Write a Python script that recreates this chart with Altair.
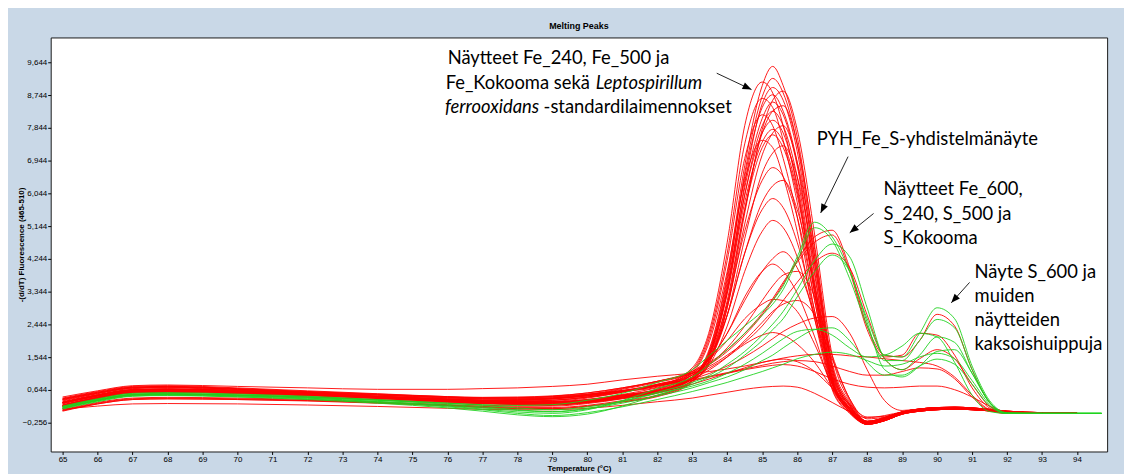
import altair as alt
import pandas as pd

# ---------------- data ----------------
temps = [65, 66, 67, 68, 70, 72, 74, 76, 77, 78, 79, 80, 81, 82, 83, 83.5, 84, 84.5, 85, 85.3, 85.6,
         86, 86.5, 87, 87.5, 88, 88.5, 89, 89.5, 90, 90.5, 91, 91.5, 92, 93, 94, 94.7]

# red: Fe samples / L. ferrooxidans standards (main peak ~85.3 C)
fe_m01 = [0.30,0.50,0.65,0.66,0.62,0.55,0.45,0.36,0.32,0.30,0.30,0.35,0.48,0.62, 1.00,1.80,3.80,6.80,9.00,9.53,9.00,7.60,4.50,1.30,0.25, -0.25,-0.15,0.02,0.10,0.14,0.15,0.13,0.09,0.05,0.01,0.00, None]
fe_m02 = [0.20,0.42,0.58,0.60,0.56,0.50,0.42,0.33,0.28,0.25,0.24,0.30,0.42,0.58, 0.95,1.70,3.60,6.60,8.70,9.20,8.80,7.40,4.30,1.20,0.20, -0.28,-0.18,0.00,0.08,0.12,0.13,0.11,0.08,0.04,0.01,0.00, None]
fe_m03 = [0.40,0.58,0.72,0.74,0.68,0.60,0.52,0.45,0.42,0.42,0.45,0.52,0.62,0.75, 1.25,2.30,4.70,7.90,9.10,8.80,7.90,6.20,3.40,0.95,0.10, -0.30,-0.20,-0.02,0.06,0.10,0.12,0.10,0.07,0.04,0.00,0.00, None]
fe_m04 = [0.28,0.48,0.62,0.64,0.60,0.53,0.44,0.35,0.31,0.29,0.29,0.34,0.46,0.60, 0.95,1.65,3.40,6.30,8.50,8.95,8.60,7.20,4.10,1.10,0.15, -0.25,-0.15,0.02,0.10,0.14,0.15,0.13,0.09,0.05,0.01,0.00, None]
fe_m05 = [0.08,0.28,0.40,0.42,0.40,0.36,0.30,0.22,0.17,0.14,0.13,0.20,0.32,0.48, 0.88,1.40,2.90,5.50,7.80,8.60,8.85,7.80,4.90,1.60,0.35, -0.22,-0.12,0.04,0.12,0.16,0.17,0.15,0.11,0.06,0.02,0.00, None]
fe_m06 = [0.22,0.44,0.60,0.62,0.58,0.52,0.43,0.34,0.29,0.26,0.26,0.32,0.44,0.60, 0.98,1.75,3.70,6.50,8.40,8.75,8.30,6.90,3.90,1.00,0.10, -0.30,-0.20,-0.02,0.06,0.10,0.12,0.10,0.07,0.04,0.00,0.00, None]
fe_m07 = [0.38,0.56,0.70,0.72,0.66,0.58,0.50,0.43,0.40,0.40,0.42,0.50,0.60,0.72, 1.20,2.20,4.40,7.40,8.65,8.40,7.50,5.80,3.10,0.80,0.05, -0.28,-0.18,0.00,0.08,0.12,0.13,0.11,0.08,0.04,0.01,0.00, None]
fe_m08 = [0.32,0.52,0.66,0.68,0.63,0.56,0.46,0.37,0.33,0.31,0.31,0.36,0.49,0.63, 1.00,1.70,3.50,6.20,8.10,8.55,8.20,6.80,3.80,1.00,0.12, -0.25,-0.15,0.02,0.10,0.14,0.15,0.13,0.09,0.05,0.01,0.00, None]
fe_m09 = [0.18,0.40,0.56,0.58,0.55,0.49,0.41,0.32,0.27,0.24,0.23,0.29,0.41,0.56, 0.90,1.45,3.00,5.60,7.70,8.30,8.45,7.40,4.60,1.40,0.30, -0.22,-0.12,0.04,0.12,0.16,0.17,0.15,0.11,0.06,0.02,0.00, None]
fe_m10 = [0.10,0.30,0.42,0.44,0.42,0.38,0.31,0.24,0.19,0.16,0.16,0.22,0.35,0.50, 0.90,1.60,3.30,6.00,7.90,8.30,7.90,6.50,3.60,0.90,0.08, -0.30,-0.20,-0.02,0.06,0.10,0.12,0.10,0.07,0.04,0.00,0.00, None]
fe_m11 = [0.30,0.50,0.64,0.66,0.61,0.54,0.45,0.36,0.32,0.30,0.30,0.36,0.50,0.66, 1.15,2.10,4.20,7.00,8.20,7.90,7.00,5.40,2.80,0.70,0.02, -0.28,-0.18,0.00,0.08,0.12,0.13,0.11,0.08,0.04,0.01,0.00, None]
fe_m12 = [0.24,0.45,0.60,0.62,0.58,0.52,0.43,0.34,0.29,0.27,0.27,0.33,0.45,0.60, 0.95,1.65,3.40,6.00,7.70,8.05,7.70,6.30,3.50,0.90,0.10, -0.25,-0.15,0.02,0.10,0.14,0.15,0.13,0.09,0.05,0.01,0.00, None]
fe_m13 = [0.42,0.60,0.74,0.76,0.70,0.62,0.54,0.46,0.43,0.43,0.46,0.53,0.63,0.76, 1.05,1.55,2.90,5.20,7.10,7.70,7.90,6.90,4.30,1.30,0.25, -0.22,-0.12,0.04,0.12,0.16,0.17,0.15,0.11,0.06,0.02,0.00, None]
fe_m14 = [0.26,0.47,0.62,0.64,0.60,0.53,0.44,0.35,0.31,0.29,0.29,0.34,0.47,0.61, 0.95,1.60,3.30,5.80,7.45,7.80,7.45,6.10,3.30,0.85,0.05, -0.30,-0.20,-0.02,0.06,0.10,0.12,0.10,0.07,0.04,0.00,0.00, None]
fe_m15 = [0.06,0.26,0.38,0.40,0.38,0.35,0.29,0.21,0.16,0.13,0.13,0.19,0.31,0.46, 0.85,1.50,3.10,5.60,7.30,7.65,7.30,6.00,3.30,0.90,0.10, -0.28,-0.18,0.00,0.08,0.12,0.13,0.11,0.08,0.04,0.01,0.00, None]
fe_m16 = [0.20,0.42,0.57,0.59,0.55,0.49,0.41,0.32,0.27,0.25,0.25,0.31,0.44,0.60, 1.10,2.00,3.90,6.40,7.50,7.30,6.50,5.00,2.60,0.65,0.00, -0.30,-0.20,-0.02,0.06,0.10,0.12,0.10,0.07,0.04,0.00,0.00, None]
fe_m17 = [0.34,0.54,0.68,0.70,0.64,0.57,0.47,0.38,0.34,0.32,0.32,0.37,0.50,0.64, 0.95,1.45,2.70,4.80,6.60,7.15,7.35,6.50,4.10,1.20,0.22, -0.25,-0.15,0.02,0.10,0.14,0.15,0.13,0.09,0.05,0.01,0.00, None]

# red: lower dilutions / weaker samples
fe_d01 = [0.22,0.43,0.58,0.60,0.56,0.50,0.42,0.33,0.28,0.26,0.26,0.32,0.45,0.62, 1.00,1.60,3.00,5.00,6.40,6.75,6.50,5.40,3.10,0.90,0.10, -0.28,-0.18,0.00,0.08,0.12,0.13,0.11,0.08,0.04,0.01,0.00, None]
fe_d02 = [0.36,0.55,0.70,0.72,0.66,0.58,0.50,0.42,0.40,0.40,0.43,0.50,0.62,0.76, 1.05,1.55,2.70,4.40,5.80,6.25,6.40,5.60,3.50,1.10,0.20, -0.25,-0.15,0.02,0.10,0.14,0.15,0.13,0.09,0.05,0.01,0.00, None]
fe_d03 = [0.30,0.50,0.64,0.66,0.62,0.55,0.46,0.37,0.33,0.31,0.32,0.38,0.50,0.66, 1.00,1.50,2.70,4.40,5.60,5.90,5.65,4.70,2.80,0.80,0.05, -0.30,-0.20,-0.02,0.06,0.10,0.12,0.10,0.07,0.04,0.00,0.00, None]
fe_d04 = [0.14,0.36,0.51,0.53,0.50,0.45,0.37,0.28,0.23,0.20,0.20,0.27,0.40,0.56, 0.90,1.35,2.40,3.90,5.00,5.30,5.10,4.30,2.60,0.80,0.05, -0.28,-0.18,0.00,0.08,0.12,0.13,0.11,0.08,0.04,0.01,0.00, None]
fe_d05 = [0.22,0.44,0.60,0.62,0.58,0.52,0.44,0.36,0.32,0.31,0.33,0.42,0.58,0.78, 1.10,1.50,2.20,3.10,3.90,4.25,4.44,4.00,2.70,1.00,0.15, -0.22,-0.12,0.04,0.12,0.16,0.17,0.15,0.11,0.06,0.02,0.00, None]
fe_d06 = [0.28,0.48,0.62,0.64,0.60,0.54,0.46,0.38,0.35,0.34,0.36,0.45,0.60,0.80, 1.10,1.50,2.20,3.20,3.90,4.10,3.90,3.30,2.10,0.70,0.05, -0.25,-0.15,0.02,0.10,0.14,0.15,0.13,0.09,0.05,0.01,0.00, None]
fe_d07 = [0.40,0.58,0.72,0.74,0.68,0.60,0.53,0.46,0.44,0.45,0.48,0.56,0.70,0.88, 1.15,1.50,2.00,2.60,3.00,3.13,3.10,2.80,1.90,0.80,0.15, -0.22,-0.12,0.04,0.12,0.16,0.17,0.15,0.11,0.06,0.02,0.00, None]
fe_d08 = [0.20,0.42,0.57,0.59,0.55,0.50,0.43,0.36,0.33,0.33,0.36,0.45,0.60,0.78, 1.00,1.25,1.55,1.90,2.15,2.22,2.15,1.90,1.40,0.70,0.15, -0.25,-0.15,0.02,0.10,0.14,0.15,0.13,0.09,0.05,0.01,0.00, None]
fe_d09 = [0.08,0.26,0.38,0.40,0.38,0.34,0.28,0.22,0.20,0.20,0.22,0.30,0.42,0.58, 0.80,0.95,1.10,1.25,1.40,1.46,1.49,1.42,1.15,0.70,0.25, -0.10,-0.08,0.03,0.10,0.14,0.15,0.13,0.09,0.05,0.01,0.00, None]
fe_d10 = [0.12,0.20,0.26,0.27,0.26,0.23,0.19,0.14,0.11,0.10,0.10,0.14,0.22,0.32, 0.42,0.50,0.58,0.66,0.72,0.74,0.75,0.72,0.55,0.30,0.05, -0.12,-0.06,0.04,0.10,0.13,0.13,0.11,0.07,0.03,0.00,0.00, None]
fe_d11 = [0.30,0.50,0.64,0.66,0.62,0.55,0.47,0.40,0.37,0.37,0.40,0.48,0.62,0.80, 1.05,1.35,1.80,2.40,3.10,3.50,3.80,3.90,3.20,1.60,0.40, -0.22,-0.12,0.04,0.12,0.16,0.17,0.15,0.11,0.06,0.02,0.00, None]
fe_d12 = [0.14,0.36,0.51,0.53,0.50,0.45,0.38,0.30,0.27,0.27,0.30,0.38,0.52,0.70, 0.95,1.20,1.55,2.00,2.50,2.80,3.00,3.10,2.70,1.50,0.40, -0.15,-0.10,0.04,0.11,0.15,0.16,0.14,0.10,0.05,0.01,0.00, None]

# red: Fe_600 / S samples (peak ~87 C, double peaks)
s_r01 = [0.22,0.44,0.60,0.62,0.58,0.52,0.45,0.38,0.35,0.36,0.40,0.50,0.66,0.85, 1.10,1.35,1.70,2.15,2.70,3.10,3.55,4.20,4.85,5.03,4.00,2.40,1.60,1.55,2.00,2.72,2.40,1.20,0.30,0.02,0.00,0.00, None]
s_r02 = [0.30,0.50,0.64,0.66,0.62,0.55,0.47,0.40,0.37,0.38,0.42,0.52,0.68,0.88, 1.15,1.40,1.75,2.20,2.75,3.15,3.60,4.15,4.70,4.90,3.90,2.30,1.55,1.60,2.20,2.15,1.60,0.70,0.15,0.02,0.00,0.00, None]
s_r03 = [0.38,0.56,0.70,0.72,0.66,0.58,0.51,0.44,0.42,0.43,0.47,0.56,0.70,0.88, 1.10,1.30,1.60,1.95,2.40,2.75,3.10,3.60,4.15,4.40,4.00,2.70,1.50,1.20,1.50,1.75,1.50,0.80,0.20,0.02,0.00,0.00, None]
s_r04 = [0.20,0.42,0.58,0.60,0.56,0.50,0.44,0.37,0.35,0.36,0.40,0.48,0.62,0.78, 0.95,1.10,1.30,1.55,1.85,2.05,2.25,2.45,2.62,2.66,2.20,1.20,0.35,0.08,0.12,0.15,0.15,0.12,0.08,0.04,0.01,0.00, None]
s_r05 = [0.45,0.62,0.76,0.78,0.74,0.70,0.66,0.66,0.68,0.70,0.74,0.80,0.92,1.02, 1.10,1.15,1.22,1.30,1.40,1.46,1.52,1.58,1.62,1.62,1.58,1.55,1.50,1.45,1.40,1.30,1.00,0.50,0.10,0.00,0.00,0.00, None]
s_r06 = [0.28,0.48,0.62,0.64,0.60,0.54,0.46,0.39,0.36,0.36,0.40,0.48,0.60,0.76, 0.92,1.02,1.12,1.22,1.32,1.38,1.42,1.45,1.42,1.30,1.15,1.05,1.05,1.15,1.25,1.22,0.95,0.45,0.08,0.00,0.00,0.00, None]
s_r07 = [0.20,0.42,0.58,0.60,0.56,0.50,0.43,0.36,0.33,0.33,0.36,0.44,0.58,0.75, 0.90,1.00,1.10,1.20,1.28,1.32,1.34,1.30,1.15,0.95,0.80,0.72,0.70,0.72,0.75,0.75,0.65,0.45,0.20,0.03,0.00,0.00, None]

# green: PYH_Fe_S combination sample and S_600-type curves
s_g01 = [0.18,0.38,0.52,0.54,0.50,0.44,0.36,0.28,0.24,0.22,0.24,0.36,0.55,0.85, 1.20,1.60,2.00,2.40,2.80,3.10,3.50,4.30,5.25,4.85,3.90,2.60,1.60,1.55,2.20,2.90,2.60,1.30,0.35,0.02,0.00,0.00,0.00]
s_g02 = [0.15,0.35,0.50,0.52,0.48,0.42,0.32,0.20,0.12,0.04,0.00,0.10,0.35,0.68, 1.00,1.35,1.75,2.20,2.70,3.00,3.40,4.20,5.10,4.75,3.70,2.40,1.45,1.45,2.00,2.58,2.35,1.20,0.30,0.00,0.00,0.00,0.00]
s_g03 = [0.20,0.40,0.55,0.57,0.53,0.47,0.38,0.28,0.22,0.15,0.10,0.18,0.34,0.58, 0.85,1.05,1.35,1.70,2.15,2.45,2.80,3.40,4.20,4.65,4.30,2.90,1.50,1.20,1.60,2.10,1.95,1.10,0.30,0.00,0.00,0.00,0.00]
s_g04 = [0.12,0.32,0.47,0.49,0.45,0.38,0.28,0.15,0.06,-0.04,-0.09,-0.02,0.20,0.50, 0.80,1.00,1.25,1.60,2.00,2.30,2.60,3.20,3.90,4.35,3.90,2.50,1.20,1.00,1.30,1.70,1.75,1.10,0.30,0.00,0.00,0.00,0.00]
s_g05 = [0.16,0.36,0.50,0.52,0.48,0.42,0.33,0.22,0.15,0.08,0.04,0.12,0.28,0.48, 0.70,0.85,1.00,1.20,1.45,1.60,1.80,2.05,2.30,2.35,2.00,1.40,1.05,1.05,1.30,1.49,1.35,0.80,0.20,0.00,0.00,0.00,0.00]
s_g06 = [0.14,0.34,0.48,0.50,0.46,0.40,0.30,0.18,0.10,0.00,-0.06,0.02,0.18,0.38, 0.60,0.72,0.85,1.00,1.15,1.25,1.35,1.50,1.62,1.68,1.62,1.45,1.30,1.35,1.55,1.65,1.50,0.90,0.25,0.00,0.00,0.00,0.00]
s_g07 = [0.18,0.38,0.53,0.55,0.51,0.45,0.36,0.25,0.18,0.10,0.05,0.14,0.32,0.55, 0.75,0.90,1.10,1.35,1.65,1.85,2.05,2.25,2.31,2.15,1.80,1.55,1.60,1.85,2.20,2.10,1.40,0.50,0.05,0.00,0.00,0.00,0.00]

red_series = [fe_m01, fe_m02, fe_m03, fe_m04, fe_m05, fe_m06, fe_m07, fe_m08, fe_m09, fe_m10,
              fe_m11, fe_m12, fe_m13, fe_m14, fe_m15, fe_m16, fe_m17,
              fe_d01, fe_d02, fe_d03, fe_d04, fe_d05, fe_d06, fe_d07, fe_d08, fe_d09, fe_d10,
              fe_d11, fe_d12, s_r01, s_r02, s_r03, s_r04, s_r05, s_r06, s_r07]
green_series = [s_g01, s_g02, s_g03, s_g04, s_g05, s_g06, s_g07]

y_ticks = [-0.256, 0.644, 1.544, 2.444, 3.344, 4.244, 5.144, 6.044, 6.944, 7.844, 8.744, 9.644]
x_ticks = list(range(65, 95))

# annotation texts (data coordinates: temperature, value at baseline)
ann_normal_text = ["Näytteet Fe_240, Fe_500 ja", "Fe_Kokooma sekä", "-standardilaimennokset",
                   "PYH_Fe_S-yhdistelmänäyte",
                   "Näytteet Fe_600,", "S_240, S_500 ja", "S_Kokooma",
                   "Näyte S_600 ja", "muiden", "näytteiden", "kaksoishuippuja"]
ann_normal_T = [76.01, 75.95, 78.75, 86.56, 88.47, 88.47, 88.47, 91.07, 91.07, 91.07, 91.07]
ann_normal_v = [9.589, 8.921, 8.252, 7.380, 5.989, 5.321, 4.652, 3.712, 3.057, 2.403, 1.748]
ann_italic_text = ["Leptospirillum", "ferrooxidans"]
ann_italic_T = [80.24, 75.93]
ann_italic_v = [8.921, 8.252]

arrow_T0 = [83.70, 87.455, 88.184, 90.928]
arrow_v0 = [9.343, 7.052, 5.490, 3.597]
arrow_T1 = [84.694, 86.671, 87.503, 90.405]
arrow_v1 = [8.893, 5.506, 4.961, 3.036]
arrow_angle = [115.2, 206.0, 231.0, 221.8]

# ---------------- build tables ----------------
def long_table(series_list, prefix):
    rows = []
    for i, vals in enumerate(series_list):
        assert len(vals) == len(temps), (prefix, i, len(vals))
        for t, v in zip(temps, vals):
            if v is not None:
                rows.append({"curve": f"{prefix}{i:02d}", "T": t, "v": v})
    return pd.DataFrame(rows)

red_df = long_table(red_series, "r")
green_df = long_table(green_series, "g")
norm_df = pd.DataFrame({"T": ann_normal_T, "v": ann_normal_v, "label": ann_normal_text})
ital_df = pd.DataFrame({"T": ann_italic_T, "v": ann_italic_v, "label": ann_italic_text})
arrow_df = pd.DataFrame({"T": arrow_T0, "v": arrow_v0, "T2": arrow_T1, "v2": arrow_v1})
head_df = pd.DataFrame({"T": arrow_T1, "v": arrow_v1, "ang": arrow_angle})

AX_FONT = "Liberation Sans"
ANN_FONT = "Lato"
ANN_SIZE = 18.5

x_scale = alt.Scale(domain=[64.66, 94.86], nice=False, zero=False)
y_scale = alt.Scale(domain=[-1.047, 10.325], nice=False, zero=False)

x_axis = alt.Axis(values=x_ticks, format="d", title="Temperature (°C)", grid=False, domain=False,
                  labelFont=AX_FONT, labelFontSize=8, labelColor="black", labelPadding=1,
                  labelFlush=False, labelOverlap=False, tickSize=3, tickColor="black",
                  titleFont=AX_FONT, titleFontSize=8, titleFontWeight="bold", titleColor="black",
                  titleY=17, titleBaseline="middle")
y_axis = alt.Axis(values=y_ticks, labelExpr="replace(format(datum.value, '.3f'), '.', ',')",
                  title="-(d/dT) Fluorescence (465-510)", grid=False, domain=False,
                  labelFont=AX_FONT, labelFontSize=8, labelColor="black", labelPadding=1,
                  labelOverlap=False, labelFlush=False, tickSize=3, tickColor="black",
                  titleFont=AX_FONT, titleFontSize=8, titleFontWeight="bold", titleColor="black",
                  titleX=-29, titleY=208.5, titleAngle=270, titleBaseline="middle", titleAlign="center")

red_lines = alt.Chart(red_df).mark_line(
    color="#ff0000", strokeWidth=0.9, interpolate="monotone", clip=True
).encode(
    x=alt.X("T:Q", scale=x_scale, axis=x_axis),
    y=alt.Y("v:Q", scale=y_scale, axis=y_axis),
    detail="curve:N",
)
green_lines = alt.Chart(green_df).mark_line(
    color="#1ed21e", strokeWidth=0.9, interpolate="monotone", clip=True
).encode(x=alt.X("T:Q", axis=x_axis), y=alt.Y("v:Q", axis=y_axis), detail="curve:N")

text_normal = alt.Chart(norm_df).mark_text(
    align="left", baseline="alphabetic", font=ANN_FONT, fontSize=ANN_SIZE, color="black"
).encode(x=alt.X("T:Q", axis=x_axis), y=alt.Y("v:Q", axis=y_axis), text="label:N")
text_italic = alt.Chart(ital_df).mark_text(
    align="left", baseline="alphabetic", font=ANN_FONT, fontSize=ANN_SIZE, fontStyle="italic", color="black"
).encode(x=alt.X("T:Q", axis=x_axis), y=alt.Y("v:Q", axis=y_axis), text="label:N")

arrow_lines = alt.Chart(arrow_df).mark_rule(color="#222222", strokeWidth=1).encode(
    x=alt.X("T:Q", axis=x_axis), y=alt.Y("v:Q", axis=y_axis), x2="T2:Q", y2="v2:Q")
arrow_heads = alt.Chart(head_df).mark_point(
    shape="M0,0L0.4,1L-0.4,1Z", filled=True, size=324, color="black", opacity=1, strokeWidth=0
).encode(x=alt.X("T:Q", axis=x_axis), y=alt.Y("v:Q", axis=y_axis),
         angle=alt.Angle("ang:Q", scale=None))

chart = alt.layer(
    red_lines, green_lines, text_normal, text_italic, arrow_lines, arrow_heads
).properties(
    width=1064, height=417,
    title=alt.TitleParams("Melting Peaks", font=AX_FONT, fontSize=9, fontWeight="bold",
                          color="black", offset=7, anchor="middle"),
    background="#c9d8e7",
    padding={"left": 43, "top": 28, "right": 17, "bottom": 21},
    autosize=alt.AutoSizeParams(type="none"),
).configure_view(
    stroke="#1a1a1a", strokeWidth=1, fill="white"
).configure_axis(
    labelOverlap=False, labelFlush=False
)

chart.save("out.html", embed_options={"renderer": "svg", "actions": False})
